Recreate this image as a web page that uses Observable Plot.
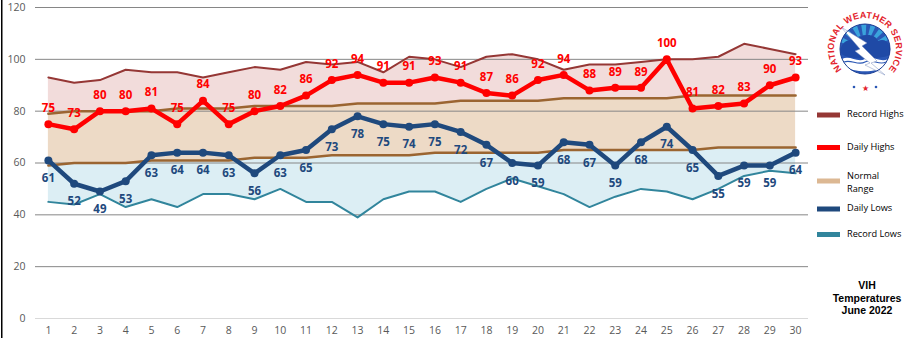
<!DOCTYPE html>
<html>
<head>
<meta charset="utf-8">
<script src="https://cdn.jsdelivr.net/npm/d3@7"></script>
<script src="https://cdn.jsdelivr.net/npm/@observablehq/plot@0.6"></script>
<style>
  html, body { margin: 0; padding: 0; background: #fff; }
  #wrap { position: relative; width: 914px; height: 338px; overflow: hidden; }
  #overlay { position: absolute; left: 0; top: 0; pointer-events: none; }
</style>
</head>
<body>
<div id="wrap"></div>
<script>
const days = [1,2,3,4,5,6,7,8,9,10,11,12,13,14,15,16,17,18,19,20,21,22,23,24,25,26,27,28,29,30];
const recordHighs = [93,91,92,96,95,95,93,95,97,96,99,98,99,95,101,100,97,101,102,100,96,98,98,99,100,100,101,106,104,102];
const dailyHighs  = [75,73,80,80,81,75,84,75,80,82,86,92,94,91,91,93,91,87,86,92,94,88,89,89,100,81,82,83,90,93];
const normalHighs = [79,80,80,80,80,81,81,81,82,82,82,82,83,83,83,83,84,84,84,84,85,85,85,85,85,86,86,86,86,86];
const normalLows  = [59,60,60,60,61,61,61,61,62,62,62,63,63,63,63,64,64,64,64,64,65,65,65,65,65,65,66,66,66,66];
const dailyLows   = [61,52,49,53,63,64,64,63,56,63,65,73,78,75,74,75,72,67,60,59,68,67,59,68,74,65,55,59,59,64];
const recordLows  = [45,44,48,43,46,43,48,48,46,50,45,45,39,46,49,49,45,50,54,51,48,43,47,50,49,46,50,55,57,56];
const yTicks = [0,20,40,60,80,100,120];
const legendLabels = ["Record Highs","Daily Highs","Normal Range","Daily Lows","Record Lows"];
const titleLines = ["VIH","Temperatures","June 2022"];

const data = days.map((d, i) => ({
  day: d, rh: recordHighs[i], dh: dailyHighs[i], nh: normalHighs[i],
  nl: normalLows[i], dl: dailyLows[i], rl: recordLows[i]
}));

const C = {
  rh: "#953735", dh: "#ff0000", nr: "#9b6531", nrSw: "#dcb893",
  dl: "#1f497d", rl: "#31859c",
  pink: "#f2dcdb", tan: "#eddac6", blue: "#dceef4"
};

const lblFont = "'Open Sans', sans-serif";

const chart = Plot.plot({
  width: 914, height: 338,
  marginLeft: 35, marginRight: 106, marginTop: 7, marginBottom: 20,
  style: { fontFamily: lblFont, fontSize: "10.5px", color: "#595959", background: "transparent" },
  x: { domain: [0.5, 30.5], ticks: days, tickSize: 0, tickPadding: 8, label: null, tickFormat: d => String(d) },
  y: { domain: [0, 120], ticks: yTicks, tickSize: 0, tickPadding: 10, label: null },
  marks: [
    Plot.areaY(data, { x: "day", y1: "nh", y2: "rh", fill: C.pink }),
    Plot.areaY(data, { x: "day", y1: "nl", y2: "nh", fill: C.tan }),
    Plot.areaY(data, { x: "day", y1: "rl", y2: "nl", fill: C.blue }),
    Plot.ruleY(yTicks.filter(t => t > 0), { stroke: "#868686", strokeWidth: 1 }),
    Plot.ruleY([0], { stroke: "#d9d9d9", strokeWidth: 1 }),
    Plot.lineY(data, { x: "day", y: "rh", stroke: C.rh, strokeWidth: 2 }),
    Plot.lineY(data, { x: "day", y: "nh", stroke: C.nr, strokeWidth: 2.5 }),
    Plot.lineY(data, { x: "day", y: "nl", stroke: C.nr, strokeWidth: 2.5 }),
    Plot.lineY(data, { x: "day", y: "rl", stroke: C.rl, strokeWidth: 2 }),
    Plot.lineY(data, { x: "day", y: "dh", stroke: C.dh, strokeWidth: 4.5, strokeLinejoin: "round" }),
    Plot.dot(data, { x: "day", y: "dh", r: 4, fill: C.dh }),
    Plot.lineY(data, { x: "day", y: "dl", stroke: C.dl, strokeWidth: 4.5, strokeLinejoin: "round" }),
    Plot.dot(data, { x: "day", y: "dl", r: 4, fill: C.dl }),
    Plot.text(data, { x: "day", y: "dh", text: d => String(d.dh), dy: -16, fill: C.dh, fontWeight: "bold", fontSize: 11.5, fontFamily: lblFont }),
    Plot.text(data, { x: "day", y: "dl", text: d => String(d.dl), dy: 18, fill: C.dl, fontWeight: "bold", fontSize: 11.5, fontFamily: lblFont })
  ]
});

const wrap = document.getElementById("wrap");
wrap.appendChild(chart);

// Overlay: border, legend, title, logo
const ov = d3.select(wrap).append("svg")
  .attr("id", "overlay").attr("width", 914).attr("height", 338);

ov.append("rect").attr("x", 1).attr("y", 0).attr("width", 1.5).attr("height", 338).attr("fill", "#000");

const legColors = [C.rh, C.dh, C.nrSw, C.dl, C.rl];
const legY = [115, 147.5, 181, 209, 234.5];
const lg = ov.append("g").attr("font-family", lblFont).attr("font-size", 9.2).attr("fill", "#000");
legendLabels.forEach((lab, i) => {
  lg.append("rect").attr("x", 817).attr("y", legY[i] - 2.5).attr("width", 23).attr("height", 5).attr("fill", legColors[i]);
  if (lab === "Normal Range") {
    lg.append("text").attr("x", 847).attr("y", 176.5).attr("dominant-baseline", "middle").text("Normal");
    lg.append("text").attr("x", 847).attr("y", 189.5).attr("dominant-baseline", "middle").text("Range");
  } else {
    lg.append("text").attr("x", 847).attr("y", legY[i]).attr("dominant-baseline", "middle").text(lab);
  }
});

const tg = ov.append("g").attr("font-family", "'Liberation Sans', Arial, sans-serif")
  .attr("font-weight", "bold").attr("font-size", 10.5).attr("fill", "#000").attr("text-anchor", "middle");
[286.5, 299, 311.5].forEach((y, i) => {
  tg.append("text").attr("x", 867).attr("y", y).attr("dominant-baseline", "middle").text(titleLines[i]);
});

// NWS logo (decorative)
const logo = ov.append("g").attr("transform", "translate(865,49)");
logo.append("defs").append("path").attr("id", "nwsRing")
  .attr("d", "M -17.8,25.4 A 31 31 0 1 1 17.8,25.4");
logo.append("circle").attr("r", 25).attr("fill", "#2a57b5");
for (let k = 0; k < 7; k++) {
  const a0 = (-75 + k * 22) * Math.PI / 180, a1 = a0 + 12 * Math.PI / 180;
  const r0 = 14, r1 = 24.5;
  const p = `M ${r0*Math.sin(a0)},${-r0*Math.cos(a0)} L ${r1*Math.sin(a0)},${-r1*Math.cos(a0)} A ${r1} ${r1} 0 0 1 ${r1*Math.sin(a1)},${-r1*Math.cos(a1)} L ${r0*Math.sin(a1)},${-r0*Math.cos(a1)} Z`;
  logo.append("path").attr("d", p).attr("fill", "#3aa3dc");
}
logo.append("path").attr("d", "M -24,4 C -26,-6 -16,-12 -8,-8 C -4,-16 10,-16 13,-8 C 22,-12 28,-2 24,6 C 20,10 -20,12 -24,4 Z").attr("fill", "#1f4aa6");
logo.append("path").attr("d", "M -23,10 C -15,6 -8,14 0,10 C 8,6 15,14 23,10 L 20,17 C 12,24 -12,24 -20,17 Z").attr("fill", "#fff");
logo.append("path").attr("d", "M -21,13 C -14,10 -7,17 0,13 C 7,9 14,17 21,13").attr("fill", "none").attr("stroke", "#2a57b5").attr("stroke-width", 1.2);
logo.append("path").attr("d", "M -24,-22 L 2,-6 L -3,-3 L 12,12 L 6,14 L 20,26 L 0,16 L 5,14 L -10,2 L -5,0 Z").attr("fill", "#fff").attr("stroke", "#7a8fbf").attr("stroke-width", 0.5);
logo.append("circle").attr("r", 25).attr("fill", "none").attr("stroke", "#1c3f95").attr("stroke-width", 1);
logo.append("text").attr("font-family", "'Liberation Sans', Arial, sans-serif").attr("font-weight", "bold")
  .attr("font-size", 9).attr("fill", "#e3232c")
  .append("textPath").attr("href", "#nwsRing").attr("startOffset", "50%").attr("text-anchor", "middle")
  .attr("letter-spacing", 0.3).text("NATIONAL WEATHER SERVICE");
logo.append("circle").attr("cx", -11).attr("cy", 38).attr("r", 1.3).attr("fill", "#2a57b5");
logo.append("circle").attr("cx", 11).attr("cy", 38).attr("r", 1.3).attr("fill", "#2a57b5");
logo.append("text").attr("x", 0).attr("y", 41.5).attr("text-anchor", "middle").attr("font-size", 8).attr("fill", "#e3232c").text("★");
</script>
</body>
</html>
